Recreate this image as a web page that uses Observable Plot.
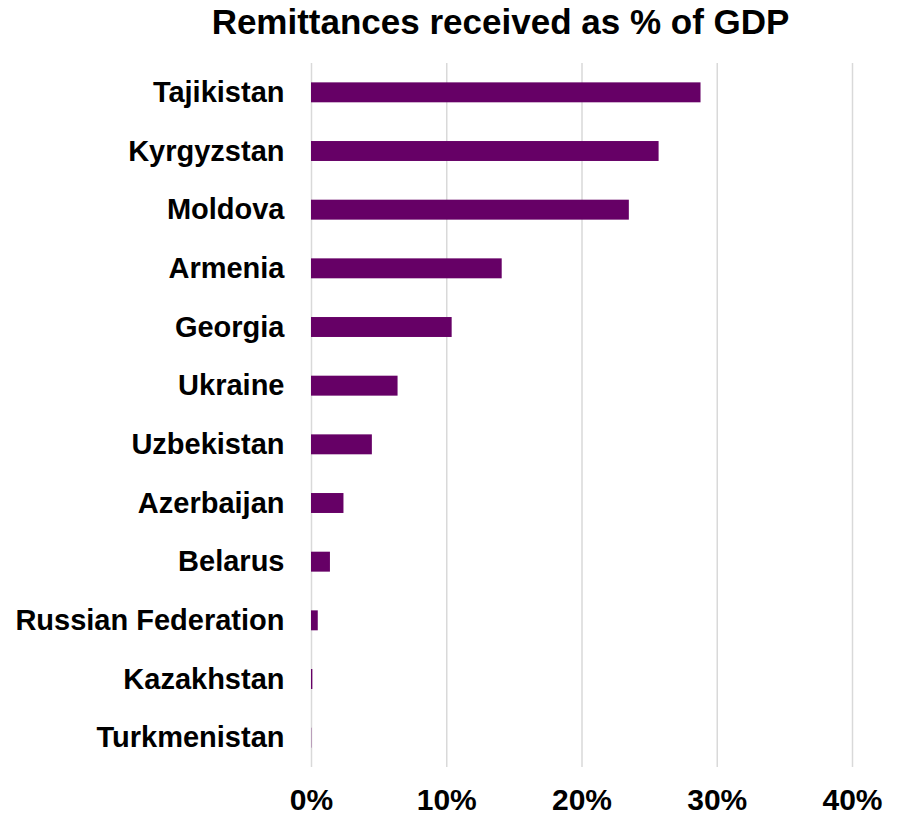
<!DOCTYPE html>
<html>
<head>
<meta charset="utf-8">
<script src="https://cdn.jsdelivr.net/npm/d3@7"></script>
<script src="https://cdn.jsdelivr.net/npm/@observablehq/plot@0.6"></script>
<style>
  html, body { margin: 0; padding: 0; background: #fff; }
  body { width: 901px; height: 815px; overflow: hidden; font-family: "Liberation Sans", Arial, sans-serif; }
  #title { height: 40px; line-height: 40px; font-size: 35px; font-weight: bold; color: #000; padding-left: 100px; text-align: center; width: 801px; white-space: nowrap; overflow: visible; }
  #title span { position: relative; top: 2px; }
  #chart svg { display: block; }
  svg text { font-weight: bold; }
</style>
</head>
<body>
<div id="title"><span>Remittances received as % of GDP</span></div>
<div id="chart"></div>
<script>
const countries = ["Tajikistan", "Kyrgyzstan", "Moldova", "Armenia", "Georgia", "Ukraine", "Uzbekistan", "Azerbaijan", "Belarus", "Russian Federation", "Kazakhstan", "Turkmenistan"];
const values = [28.8, 25.7, 23.5, 14.1, 10.4, 6.4, 4.5, 2.4, 1.4, 0.5, 0.1, 0.02];
const xTicks = [0, 10, 20, 30, 40];

const data = countries.map((c, i) => ({country: c, value: values[i]}));

const chart = Plot.plot({
  width: 901,
  height: 775,
  marginLeft: 311,
  marginRight: 49,
  marginTop: 23,
  marginBottom: 48,
  style: {fontFamily: '"Liberation Sans", Arial, sans-serif', color: "#000", background: "#fff"},
  x: {domain: [0, 40], label: null},
  y: {domain: countries, paddingInner: 0.66, paddingOuter: 0.33, round: false, label: null},
  marks: [
    Plot.gridX(xTicks, {stroke: "#d9d9d9", strokeOpacity: 1, strokeWidth: 1.5}),
    Plot.barX(data, {x: "value", y: "country", fill: "#660066"}),
    Plot.axisX(xTicks, {tickSize: 0, tickPadding: 21, fontSize: 30, fontWeight: "bold", tickFormat: d => d + "%", label: null}),
    Plot.axisY({tickSize: 0, tickPadding: 27, fontSize: 29, fontWeight: "bold", label: null})
  ]
});
document.getElementById("chart").appendChild(chart);
</script>
</body>
</html>
